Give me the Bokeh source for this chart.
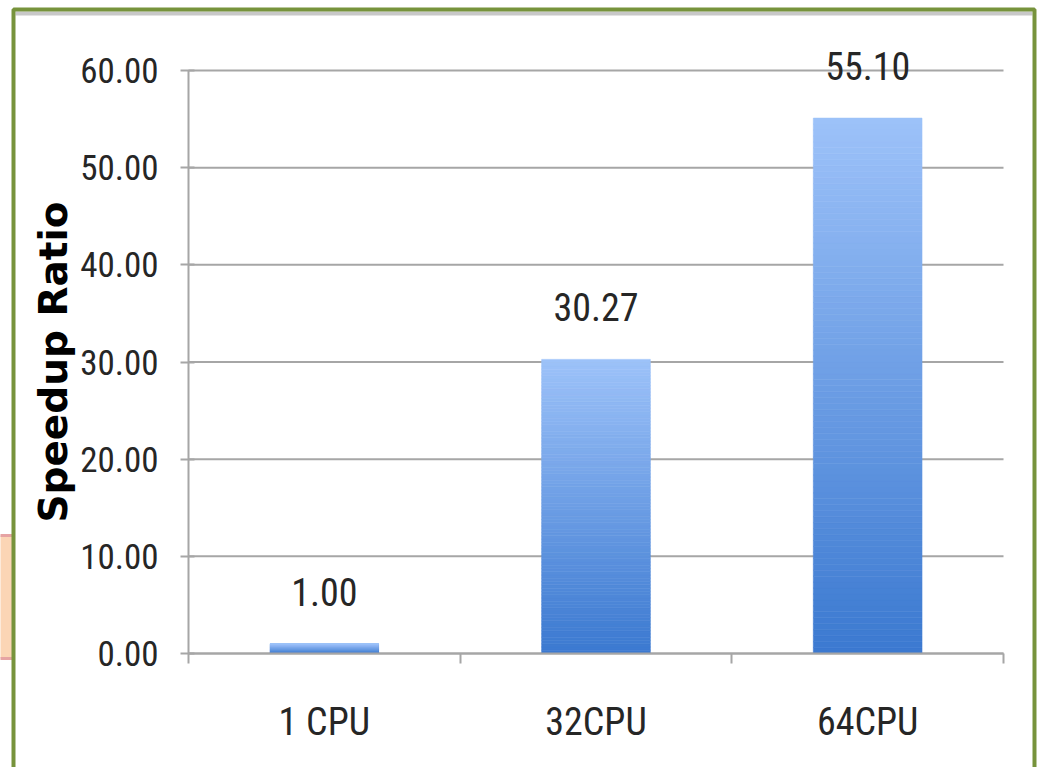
from bokeh.plotting import figure
from bokeh.models import Range1d, FixedTicker, LabelSet, ColumnDataSource, BoxAnnotation
from bokeh.core.properties import value
from bokeh.embed import file_html
from bokeh.resources import INLINE

categories = ["1 CPU", "32CPU", "64CPU"]
speedup = [1.00, 30.27, 55.10]
y_ticks = [0, 10, 20, 30, 40, 50, 60]
y_tick_labels = ["0.00", "10.00", "20.00", "30.00", "40.00", "50.00", "60.00"]
y_title = "Speedup Ratio"

NARROW = "'Liberation Sans Narrow', 'Arial Narrow', 'Roboto Condensed', sans-serif"
GRAY = "#A6A6A6"
TXT = "#262626"

W, H = 1039, 767
# pixel placement of the chart area inside the slide
PX_L, PX_R, PX_T, PX_B = 188, 1003, 70, 653

centers = [i + 0.5 for i in range(len(categories))]
bounds = [float(i) for i in range(len(categories) + 1)]

ncat = len(categories)
sx = (PX_R - PX_L) / ncat
sy = (PX_B - PX_T) / (y_ticks[-1] - y_ticks[0])
x_rng = Range1d(-PX_L / sx, ncat + (W - PX_R) / sx)
y_rng = Range1d(y_ticks[0] - (H - PX_B) / sy, y_ticks[-1] + PX_T / sy)

p = figure(width=W, height=H, output_backend="svg", toolbar_location=None,
           x_range=x_rng, y_range=y_rng,
           min_border=0, min_border_left=0, min_border_right=0,
           min_border_top=0, min_border_bottom=0,
           background_fill_color="white", border_fill_color="white")
p.outline_line_color = None
p.xgrid.visible = False
p.ygrid.visible = False

# horizontal gridlines over the category span
p.segment(x0=[bounds[0]] * len(y_ticks), x1=[bounds[-1]] * len(y_ticks),
          y0=y_ticks, y1=y_ticks, line_color=GRAY, line_width=2)

# gradient bars made of thin slices
N = 90
top_rgb = (0x9D, 0xC2, 0xF9)
bot_rgb = (0x3B, 0x79, 0xD0)
xs, bots, tops, cols = [], [], [], []
for c, v in zip(centers, speedup):
    for k in range(N):
        t = (k + 0.5) / N
        rgb = tuple(int(round(b + (tp - b) * t)) for b, tp in zip(bot_rgb, top_rgb))
        xs.append(c)
        bots.append(v * k / N)
        tops.append(v * (k + 1) / N)
        cols.append("#%02x%02x%02x" % rgb)
p.vbar(x=xs, bottom=bots, top=tops, width=0.4, fill_color=cols, line_color=cols, line_width=0.6)

# data labels
src = ColumnDataSource(dict(x=centers, y=speedup, t=["%.2f" % v for v in speedup]))
p.add_layout(LabelSet(x="x", y="y", text="t", source=src, y_offset=38,
                      text_align="center", text_baseline="alphabetic",
                      text_font=value(NARROW), text_font_size="38px", text_color=TXT))

# y axis (drawn at x = 0 inside the slide)
ya = p.yaxis[0]
ya.fixed_location = bounds[0]
ya.bounds = (y_ticks[0], y_ticks[-1])
ya.ticker = FixedTicker(ticks=y_ticks, minor_ticks=[])
ya.major_label_overrides = {t: l for t, l in zip(y_ticks, y_tick_labels)}
ya.major_label_text_font = NARROW
ya.major_label_text_font_size = "35px"
ya.major_label_text_color = TXT
ya.major_tick_in = 6
ya.major_tick_out = 8
ya.major_tick_line_color = GRAY
ya.major_tick_line_width = 2
ya.axis_line_color = GRAY
ya.axis_line_width = 2
ya.major_label_standoff = 22
ya.axis_label = y_title
ya.axis_label_text_font = "DejaVu Sans"
ya.axis_label_text_font_style = "bold"
ya.axis_label_text_font_size = "39px"
ya.axis_label_text_color = "black"
ya.axis_label_standoff = 1

# x axis (drawn at y = 0)
xa = p.xaxis[0]
xa.fixed_location = y_ticks[0]
xa.bounds = (bounds[0], bounds[-1])
xa.ticker = FixedTicker(ticks=centers, minor_ticks=bounds)
xa.major_label_overrides = {c: n for c, n in zip(centers, categories)}
xa.major_label_text_font = NARROW
xa.major_label_text_font_size = "38px"
xa.major_label_text_color = TXT
xa.major_tick_in = 0
xa.major_tick_out = 0
xa.minor_tick_in = 0
xa.minor_tick_out = 10
xa.minor_tick_line_color = GRAY
xa.minor_tick_line_width = 2
xa.axis_line_color = GRAY
xa.axis_line_width = 2
xa.major_label_standoff = 36

# decorative slide elements (screen units: x from left, y from bottom)
def sbox(l, r, t, b, **kw):
    return BoxAnnotation(left=l, right=r, top=H - t, bottom=H - b,
                         left_units="screen", right_units="screen",
                         top_units="screen", bottom_units="screen", level="overlay", **kw)

p.add_layout(sbox(-6, 13, 535, 658, fill_color="#FBD5B5", fill_alpha=1,
                  line_color="#E6A3A3", line_alpha=1, line_width=3))
p.add_layout(sbox(15, 1032, 11, 15, fill_color="#C8C8C8", fill_alpha=1, line_color=None))
p.add_layout(sbox(13, 1034, 9, 800, fill_alpha=0, line_color="#77933C", line_alpha=1,
                  line_width=4))

open("out.html", "w").write(file_html(p, INLINE))
